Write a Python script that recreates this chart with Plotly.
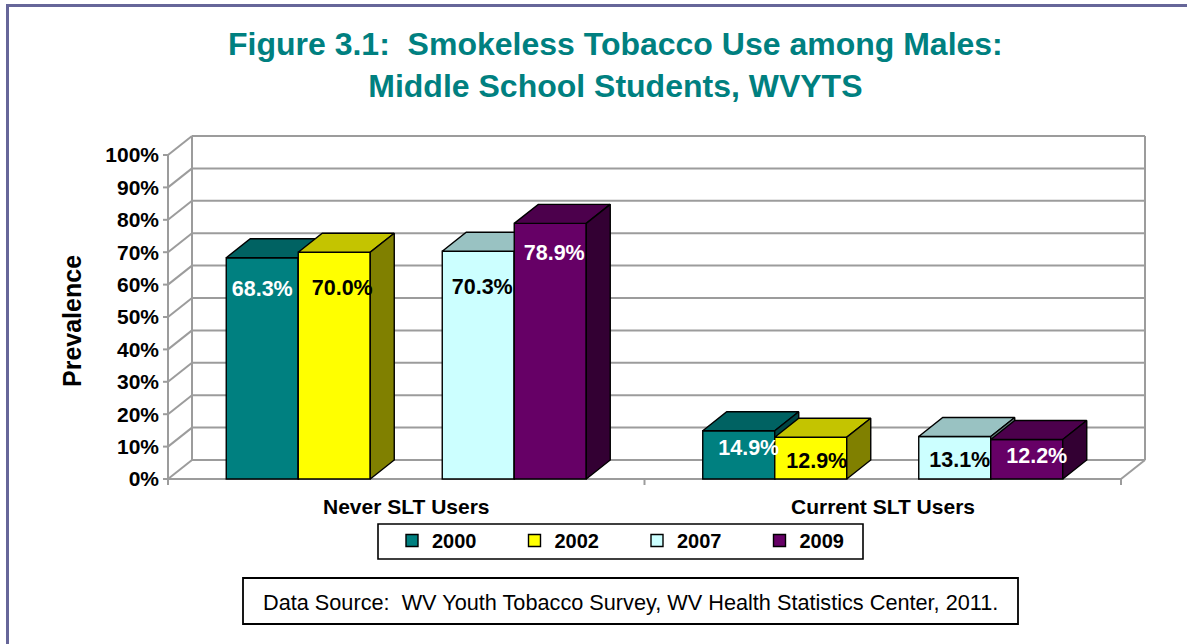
import plotly.graph_objects as go

# ---------------- data ----------------
categories = ["Never SLT Users", "Current SLT Users"]
years = ["2000", "2002", "2007", "2009"]
prev_2000 = [68.3, 14.9]
prev_2002 = [70.0, 12.9]
prev_2007 = [70.3, 13.1]
prev_2009 = [78.9, 12.2]
y_ticks = [0, 10, 20, 30, 40, 50, 60, 70, 80, 90, 100]
y_tick_labels = ["0%", "10%", "20%", "30%", "40%", "50%", "60%", "70%", "80%", "90%", "100%"]
title_text = "Figure 3.1:  Smokeless Tobacco Use among Males:<br>Middle School Students, WVYTS"
y_title = "Prevalence"
source_text = "Data Source:  WV Youth Tobacco Survey, WV Health Statistics Center, 2011."

series = {"2000": prev_2000, "2002": prev_2002, "2007": prev_2007, "2009": prev_2009}

# ---------------- styles ----------------
FRONT = {"2000": "#008080", "2002": "#FFFF00", "2007": "#CCFFFF", "2009": "#660066"}
TOP = {"2000": "#006262", "2002": "#C4C400", "2007": "#99C2C2", "2009": "#4C004C"}
SIDE = {"2000": "#004444", "2002": "#808000", "2007": "#668080", "2009": "#330033"}
LABEL_COLOR = {"2000": "white", "2002": "black", "2007": "black", "2009": "white"}
SLOT = {"2000": 0, "2002": 1, "2007": 3, "2009": 4}
LABEL_DX_PX = {"2000": [0, 10], "2002": [8, 6], "2007": [4, 5], "2009": [4, 10]}
LABEL_DROP_PX = {"2000": [33, 19], "2002": [37, 25], "2007": [37, 25], "2009": [31, 18]}

FONT = "Liberation Sans, Arial, sans-serif"
W, H = 1187, 644
FL, FR, FB = 168, 1121, 479          # front-left, front-right, front-bottom (px)
PXY = 3.24                            # px per percentage point
PXX = (FR - FL) / 2.0                 # px per category
DEPTH_DX, DEPTH_DY = 24, 19           # 3-D depth offset (px)
SLOT_PX = 72
PL, PR, PT, PB = 160, 1150, 130, 488  # plot area (px)

xr = [-0.5 - (FL - PL) / PXX, 1.5 + (PR - FR) / PXX]
yr = [-(PB - FB) / PXY, (FB - PT) / PXY]
ddx = DEPTH_DX / PXX
ddy = DEPTH_DY / PXY
bw = SLOT_PX / PXX
GRID = "#9C9C9C"


def px_x(px):
    return (px - PL) / (PR - PL)


def px_y(py):
    return (PB - py) / (PB - PT)


fig = go.Figure()
xi = list(range(len(categories)))

for k, yr_name in enumerate(years):
    ax = "" if k == 0 else str(k + 1)
    vals = series[yr_name]
    off = (SLOT[yr_name] - 2.5) * bw
    fig.add_trace(go.Bar(
        x=xi, y=vals, name=yr_name, width=bw, offset=off,
        marker=dict(color=FRONT[yr_name], line=dict(color="black", width=1.4)),
        xaxis="x" + ax, yaxis="y" + ax, showlegend=True, hoverinfo="skip",
    ))
    for i, v in zip(xi, vals):
        x0 = i + off
        x1 = x0 + bw
        # top face
        fig.add_trace(go.Scatter(
            x=[x0, x1, x1 + ddx, x0 + ddx, x0], y=[v, v, v + ddy, v + ddy, v],
            mode="lines", fill="toself", fillcolor=TOP[yr_name],
            line=dict(color="black", width=1.4), showlegend=False, hoverinfo="skip",
            xaxis="x" + ax, yaxis="y" + ax,
        ))
        # side face
        fig.add_trace(go.Scatter(
            x=[x1, x1, x1 + ddx, x1 + ddx, x1], y=[0, v, v + ddy, ddy, 0],
            mode="lines", fill="toself", fillcolor=SIDE[yr_name],
            line=dict(color="black", width=1.4), showlegend=False, hoverinfo="skip",
            xaxis="x" + ax, yaxis="y" + ax,
        ))

# data labels (top layer)
for yr_name in years:
    vals = series[yr_name]
    off = (SLOT[yr_name] - 2.5) * bw
    lx = [i + off + bw / 2 + LABEL_DX_PX[yr_name][i] / PXX for i in xi]
    ly = [v - LABEL_DROP_PX[yr_name][i] / PXY for i, v in zip(xi, vals)]
    fig.add_trace(go.Scatter(
        x=lx, y=ly, mode="text", text=[f"{v:.1f}%" for v in vals],
        textposition="middle center",
        textfont=dict(family=FONT, size=21.5, color=LABEL_COLOR[yr_name], weight="bold"),
        showlegend=False, hoverinfo="skip", xaxis="x4", yaxis="y4",
    ))

shapes = []


def dline(x0, y0, x1, y1, color=GRID, width=2):
    shapes.append(dict(type="line", xref="x", yref="y", x0=x0, y0=y0, x1=x1, y1=y1,
                       line=dict(color=color, width=width), layer="below"))


xl, xb = -0.5, 1.5
# back wall grid and side wall grid
for t in y_ticks:
    dline(xl + ddx, t + ddy, xb + ddx, t + ddy)
    dline(xl, t, xl + ddx, t + ddy)
    # tick marks on front axis
    dline(xl - 5 / PXX, t, xl, t)
# wall verticals
dline(xl, 0, xl, 100)
dline(xl + ddx, ddy, xl + ddx, 100 + ddy)
dline(xb + ddx, ddy, xb + ddx, 100 + ddy)
# floor
dline(xl, 0, xb, 0)
dline(xb, 0, xb + ddx, ddy)
# category boundary ticks
for bx in [-0.5, 0.5, 1.5]:
    dline(bx, 0, bx, -6 / PXY)

# outer frame
shapes.append(dict(type="rect", xref="paper", yref="paper",
                   x0=px_x(7.5), y0=px_y(5.5), x1=px_x(1200), y1=px_y(670),
                   line=dict(color="#666699", width=3), layer="above"))
# legend box
shapes.append(dict(type="rect", xref="paper", yref="paper",
                   x0=px_x(378), y0=px_y(524), x1=px_x(863), y1=px_y(559),
                   line=dict(color="black", width=1.6), fillcolor="white", layer="below"))
# data source box
shapes.append(dict(type="rect", xref="paper", yref="paper",
                   x0=px_x(243), y0=px_y(578), x1=px_x(1018), y1=px_y(624),
                   line=dict(color="black", width=1.8), fillcolor="white"))

annotations = [
    dict(text=title_text, xref="paper", yref="paper", x=px_x(615), y=px_y(24),
         xanchor="center", yanchor="top", showarrow=False,
         font=dict(family=FONT, size=32, color="#008080", weight="bold")),
    dict(text=y_title, xref="paper", yref="paper", x=px_x(72), y=px_y(321),
         xanchor="center", yanchor="middle", textangle=-90, showarrow=False,
         font=dict(family=FONT, size=25, color="black", weight="bold")),
    dict(text=source_text, xref="paper", yref="paper", x=px_x(630), y=px_y(602),
         xanchor="center", yanchor="middle", showarrow=False,
         font=dict(family=FONT, size=21.7, color="black")),
]
for i, c in enumerate(categories):
    annotations.append(dict(text=c, xref="x", yref="paper", x=i, y=px_y(506),
                            xanchor="center", yanchor="middle", showarrow=False,
                            font=dict(family=FONT, size=21, color="black", weight="bold")))

layout = dict(
    width=W, height=H,
    margin=dict(l=PL, r=W - PR, t=PT, b=H - PB, pad=0),
    paper_bgcolor="white", plot_bgcolor="white",
    xaxis=dict(range=xr, showgrid=False, zeroline=False, showticklabels=False,
               ticks="", showline=False, fixedrange=True),
    yaxis=dict(range=yr, tickmode="array", tickvals=y_ticks, ticktext=y_tick_labels,
               showgrid=False, zeroline=False, ticks="", showline=False,
               ticklabelstandoff=0, fixedrange=True,
               tickfont=dict(family=FONT, size=21, color="black", weight="bold")),
    shapes=shapes, annotations=annotations,
    showlegend=True,
    legend=dict(orientation="h", x=px_x(392), y=px_y(521), xanchor="left", yanchor="top",
                bgcolor="rgba(0,0,0,0)", borderwidth=0,
                entrywidth=77.5, entrywidthmode="pixels", itemwidth=30,
                font=dict(family=FONT, size=20, color="black", weight="bold")),
    barmode="overlay",
)
for k in range(2, 5):
    layout[f"xaxis{k}"] = dict(overlaying="x", range=xr, visible=False, fixedrange=True)
    layout[f"yaxis{k}"] = dict(overlaying="y", range=yr, visible=False, fixedrange=True)

fig.update_layout(**layout)
fig.write_html("out.html")
